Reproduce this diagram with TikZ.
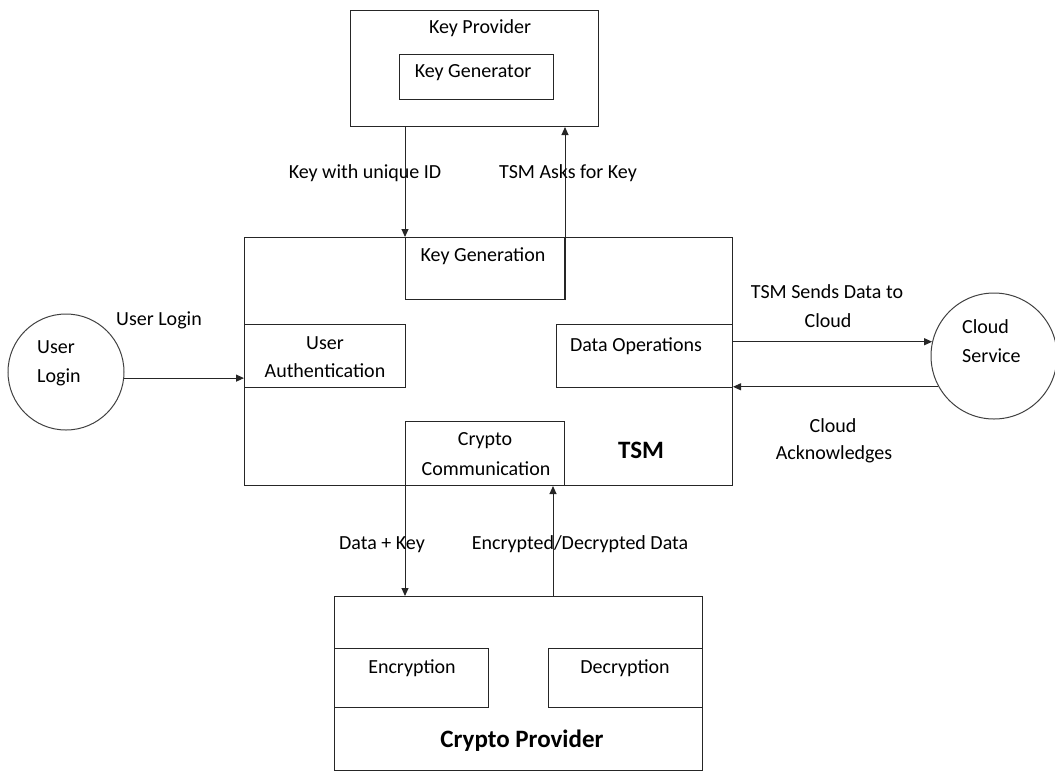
\documentclass[tikz,border=0pt]{standalone}
\usepackage{fontspec}
\setmainfont{Carlito}
\usetikzlibrary{arrows.meta}
\begin{document}
\begin{tikzpicture}[x=1pt,y=-1pt,
  box/.style={draw=black!85,line width=1pt,rectangle,anchor=north west,inner sep=0pt},
  circ/.style={draw=black!75,line width=1pt,circle,inner sep=0pt},
  txt/.style={anchor=base,inner sep=0pt,font=\fontsize{20}{24}\selectfont},
  txtl/.style={anchor=base west,inner sep=0pt,font=\fontsize{20}{24}\selectfont},
  bold/.style={anchor=base,inner sep=0pt,font=\fontsize{25}{29}\selectfont\bfseries},
  arr/.style={draw=black!85,line width=1pt,-{Triangle[length=8pt,width=7pt]}}]
\useasboundingbox (0,0) rectangle (1055,772);
% boxes
\node[box,minimum width=248pt,minimum height=116pt] (kp) at (350,10) {};
\node[box,minimum width=154pt,minimum height=45pt] (kgr) at (399,54) {};
\node[box,minimum width=488pt,minimum height=248pt] (tsm) at (244,237) {};
\node[box,minimum width=159pt,minimum height=62pt] (kgen) at (405,237) {};
\node[box,minimum width=161pt,minimum height=63pt] (ua) at (244,324) {};
\node[box,minimum width=176pt,minimum height=63pt] (dop) at (556,324) {};
\node[box,minimum width=159pt,minimum height=64pt] (cc) at (405,421) {};
\node[box,minimum width=368pt,minimum height=174pt] (cp) at (334,596) {};
\node[box,minimum width=154pt,minimum height=59pt] (enc) at (334,648) {};
\node[box,minimum width=154pt,minimum height=59pt] (dec) at (548,648) {};
\node[circ,minimum size=116pt] (ul) at (66,372) {};
\node[circ,minimum size=126pt] (cs) at (994,356) {};
% texts in boxes
\node[txt] (tkp) at (480,33) {Key Provider};
\node[txt] (tkgr) at (473,77) {Key Generator};
\node[txt] (tkgen) at (483,261) {Key Generation};
\node[txt] (tua1) at (325,349) {User};
\node[txt] (tua2) at (325,377) {Authentication};
\node[txt] (tdop) at (636,351) {Data Operations};
\node[txt] (tcc1) at (485,445) {Crypto};
\node[txt] (tcc2) at (486,475) {Communication};
\node[bold] (ttsm) at (641,458) {TSM};
\node[txt] (tenc) at (412,673) {Encryption};
\node[txt] (tdec) at (625,673) {Decryption};
\node[bold] (tcp) at (522,747) {Crypto Provider};
\node[txtl] (tul1) at (37,353) {User};
\node[txtl] (tul2) at (37,382) {Login};
\node[txtl] (tcs1) at (962,333) {Cloud};
\node[txtl] (tcs2) at (962,362) {Service};
% connectors
\draw[arr] (kgen.north west |- kp.south) -- (kgen.north west);
\draw[arr] (kgen.south east) -- (kgen.south east |- kp.south);
\draw[arr] (ul.-6) -- (ul.-6 -| tsm.west);
\draw[arr] (cs.167 -| tsm.east) -- (cs.167);
\draw[arr] (cs.209.5) -- (cs.209.5 -| tsm.east);
\draw[arr] (cc.south west) -- (cc.south west |- cp.north);
\coordinate (cpup) at (553,596);
\draw[arr] (cpup) -- (cpup |- tsm.south);
% connector labels
\node[txt] (lk1) at (365,178) {Key with unique ID};
\node[txt] (lk2) at (568,178) {TSM Asks for Key};
\node[txt] (lul) at (159,325) {User Login};
\node[txt] (ls1) at (827,298) {TSM Sends Data to};
\node[txt] (ls2) at (828,327) {Cloud};
\node[txt] (la1) at (833,432) {Cloud};
\node[txt] (la2) at (834,459) {Acknowledges};
\node[txt] (ld1) at (382,549) {Data + Key};
\node[txt] (ld2) at (580,549) {Encrypted/Decrypted Data};
\end{tikzpicture}
\end{document}
